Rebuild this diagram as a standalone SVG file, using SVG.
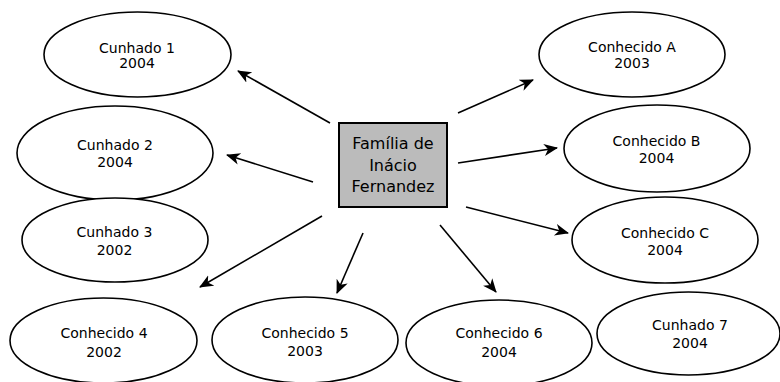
<svg xmlns="http://www.w3.org/2000/svg" width="780" height="382" viewBox="0 0 780 382">
<style>
.n ellipse{fill:#fff;stroke:#000;stroke-width:1.6}
.n text{font-family:"DejaVu Sans",Verdana,sans-serif;font-size:14px;fill:#000;text-anchor:middle}
.c line{stroke:#000;stroke-width:1.6;marker-end:url(#ah)}
#center rect{fill:#bbbbbb;stroke:#000;stroke-width:2}
#center text{font-family:"DejaVu Sans",Verdana,sans-serif;font-size:16px;fill:#000;text-anchor:middle}
</style>
<defs>
<marker id="ah" markerUnits="userSpaceOnUse" markerWidth="16" markerHeight="14" refX="13" refY="6" orient="auto">
<path d="M0,0 L14,6 L0,12 L4,6 z" fill="#000"/>
</marker>
</defs>
<rect width="780" height="382" fill="#fff"/>
<g class="c" id="connectors">
<line x1="330" y1="123" x2="238" y2="71"/>
<line x1="313" y1="182" x2="227" y2="155"/>
<line x1="458" y1="113" x2="533" y2="80"/>
<line x1="458" y1="163" x2="557" y2="148"/>
<line x1="466" y1="207" x2="568" y2="233"/>
<line x1="440" y1="225" x2="496" y2="292"/>
<line x1="322" y1="216" x2="200" y2="287"/>
<line x1="363" y1="233" x2="337" y2="293"/>
</g>
<g id="center">
<rect x="339" y="123" width="108" height="84"/>
<text x="393" y="149">Família de</text>
<text x="393" y="171">Inácio</text>
<text x="393" y="192">Fernandez</text>
</g>
<g class="n" id="cunhado1">
<ellipse cx="137.5" cy="54.5" rx="93.5" ry="42.5"/>
<text x="137" y="53">Cunhado 1</text>
<text x="137" y="68">2004</text>
</g>
<g class="n" id="cunhado2">
<ellipse cx="115" cy="153" rx="98" ry="47"/>
<text x="115" y="150">Cunhado 2</text>
<text x="115" y="167">2004</text>
</g>
<g class="n" id="cunhado3">
<ellipse cx="115" cy="240" rx="93" ry="42"/>
<text x="114.5" y="237">Cunhado 3</text>
<text x="114.5" y="255">2002</text>
</g>
<g class="n" id="conhecido4">
<ellipse cx="103.5" cy="340.5" rx="93.5" ry="42.5"/>
<text x="104" y="338">Conhecido 4</text>
<text x="104" y="357">2002</text>
</g>
<g class="n" id="conhecido5">
<ellipse cx="305" cy="340" rx="93" ry="43"/>
<text x="305" y="338">Conhecido 5</text>
<text x="305" y="356">2003</text>
</g>
<g class="n" id="conhecido6">
<ellipse cx="499" cy="343" rx="93" ry="43"/>
<text x="499" y="338">Conhecido 6</text>
<text x="499" y="357">2004</text>
</g>
<g class="n" id="cunhado7">
<ellipse cx="688.5" cy="333.5" rx="91.5" ry="41.5"/>
<text x="690" y="330">Cunhado 7</text>
<text x="690" y="348">2004</text>
</g>
<g class="n" id="conhecidoA">
<ellipse cx="632" cy="54.5" rx="93" ry="42.5"/>
<text x="632" y="52">Conhecido A</text>
<text x="632" y="68">2003</text>
</g>
<g class="n" id="conhecidoB">
<ellipse cx="657" cy="148.5" rx="93" ry="43.5"/>
<text x="656.5" y="146">Conhecido B</text>
<text x="656.5" y="163">2004</text>
</g>
<g class="n" id="conhecidoC">
<ellipse cx="665" cy="240" rx="93" ry="43"/>
<text x="665" y="238">Conhecido C</text>
<text x="665" y="255">2004</text>
</g>
</svg>
